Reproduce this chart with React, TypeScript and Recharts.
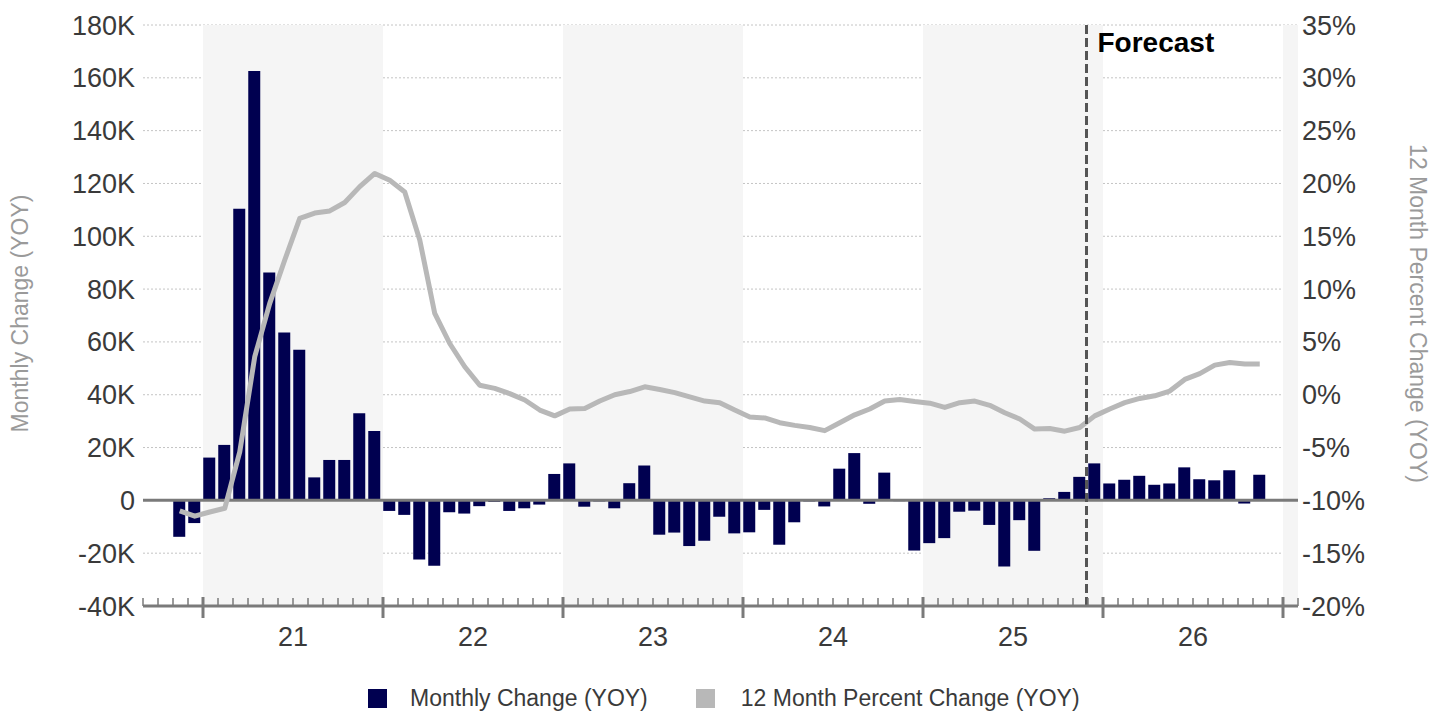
import React from 'react';
import {
  ComposedChart,
  Bar,
  Line,
  XAxis,
  YAxis,
  CartesianGrid,
  ReferenceLine,
  ReferenceArea,
  Legend,
} from 'recharts';

// ---- data ----
const months = [
  '2020-11', '2020-12',
  '2021-01', '2021-02', '2021-03', '2021-04', '2021-05', '2021-06', '2021-07', '2021-08', '2021-09', '2021-10', '2021-11', '2021-12',
  '2022-01', '2022-02', '2022-03', '2022-04', '2022-05', '2022-06', '2022-07', '2022-08', '2022-09', '2022-10', '2022-11', '2022-12',
  '2023-01', '2023-02', '2023-03', '2023-04', '2023-05', '2023-06', '2023-07', '2023-08', '2023-09', '2023-10', '2023-11', '2023-12',
  '2024-01', '2024-02', '2024-03', '2024-04', '2024-05', '2024-06', '2024-07', '2024-08', '2024-09', '2024-10', '2024-11', '2024-12',
  '2025-01', '2025-02', '2025-03', '2025-04', '2025-05', '2025-06', '2025-07', '2025-08', '2025-09', '2025-10', '2025-11', '2025-12',
  '2026-01', '2026-02', '2026-03', '2026-04', '2026-05', '2026-06', '2026-07', '2026-08', '2026-09', '2026-10', '2026-11',
];

// Monthly change (YOY), thousands
const monthlyChangeK = [
  -13.8, -8.6,
  16.2, 21.0, 110.4, 162.6, 86.3, 63.6, 57.0, 8.7, 15.3, 15.3, 33.0, 26.3,
  -4.0, -5.5, -22.4, -24.8, -4.5, -5.0, -2.2, -0.6, -4.0, -3.0, -1.6, 10.0,
  14.0, -2.4, -0.4, -3.0, 6.5, 13.2, -13.0, -12.2, -17.3, -15.3, -6.2, -12.5,
  -12.1, -3.6, -16.8, -8.3, -0.4, -2.3, 12.0, 17.9, -1.3, 10.5, -0.3, -19.0,
  -16.2, -14.3, -4.3, -3.9, -9.3, -25.0, -7.5, -19.1, 0.8, 3.2, 8.9, 14.0,
  6.4, 7.8, 9.3, 5.9, 6.4, 12.5, 8.0, 7.6, 11.4, -1.2, 9.7,
];

// 12 month percent change (YOY), %
const pctChange = [
  -11.0, -11.5,
  -11.1, -10.75, -5.4, 3.6, 8.65, 12.75, 16.7, 17.2, 17.4, 18.2, 19.7, 20.95,
  20.3, 19.2, 14.65, 7.7, 4.85, 2.65, 0.9, 0.6, 0.1, -0.5, -1.45, -2.0,
  -1.35, -1.3, -0.6, 0.0, 0.3, 0.75, 0.5, 0.2, -0.2, -0.6, -0.75, -1.45,
  -2.1, -2.2, -2.65, -2.9, -3.1, -3.4, -2.65, -1.9, -1.35, -0.6, -0.45, -0.65,
  -0.8, -1.2, -0.75, -0.6, -1.0, -1.7, -2.3, -3.25, -3.2, -3.45, -3.1, -2.0,
  -1.35, -0.75, -0.35, -0.1, 0.35, 1.45, 2.0, 2.8, 3.05, 2.9, 2.9,
];

const leftTicks = [-40000, -20000, 0, 20000, 40000, 60000, 80000, 100000, 120000, 140000, 160000, 180000];
const rightTicks = [-20, -15, -10, -5, 0, 5, 10, 15, 20, 25, 30, 35];
const yearLabels = ['21', '22', '23', '24', '25', '26'];
const shadedYears = [2021, 2023, 2025, 2027];
const forecastStart = '2025-12';
const forecastLabel = 'Forecast';
const seriesNames = ['Monthly Change (YOY)', '12 Month Percent Change (YOY)'];
const axisTitles = ['Monthly Change (YOY)', '12 Month Percent Change (YOY)'];

// axis runs from Sep 2020 (index 0) to end of Jan 2027 (index 77)
const AXIS_FIRST_YEAR = 2020;
const AXIS_FIRST_MONTH = 9;
const AXIS_LENGTH = 77;

const idxOf = (m: string) => {
  const [y, mo] = m.split('-').map(Number);
  return (y - AXIS_FIRST_YEAR) * 12 + (mo - AXIS_FIRST_MONTH);
};

const data = months.map((m, i) => ({
  x: idxOf(m) + 0.45,
  month: m,
  change: monthlyChangeK[i] * 1000,
  pct: pctChange[i],
}));

const xTicks = Array.from({ length: AXIS_LENGTH + 1 }, (_, i) => i);

const NAVY = '#000050';
const GRAY_LINE = '#b8b8b8';
const AXIS_GRAY = '#7a7a7a';
const TEXT = '#3a3a3a';
const FONT = '"Liberation Sans", Arial, sans-serif';

const fmtK = (v: number) => (v === 0 ? '0' : `${v / 1000}K`);
const fmtPct = (v: number) => `${v}%`;

const XTick = (props: any) => {
  const { x, y, payload } = props;
  const v = payload.value as number;
  const firstJan = idxOf(`${AXIS_FIRST_YEAR + 1}-01`);
  const rel = (((v - firstJan) % 12) + 12) % 12;
  const yearIdx = Math.floor((v - firstJan) / 12);
  return (
    <g>
      {rel === 0 ? (
        <line x1={x} x2={x} y1={y - 9} y2={y + 12} stroke={AXIS_GRAY} strokeWidth={3} />
      ) : (
        <line x1={x} x2={x} y1={y - 8} y2={y} stroke={AXIS_GRAY} strokeWidth={1.5} />
      )}
      {rel === 6 && yearIdx >= 0 && yearLabels[yearIdx] ? (
        <text x={x} y={y + 40} textAnchor="middle" fill={TEXT} fontSize={27} fontFamily={FONT}>
          {yearLabels[yearIdx]}
        </text>
      ) : null}
    </g>
  );
};

const LeftTitle = (props: any) => {
  const vb = props.viewBox || { x: 0, y: 0, width: 0, height: 0 };
  const cx = vb.x + 12;
  const cy = vb.y + vb.height / 2 - 2;
  return (
    <text
      x={cx}
      y={cy}
      transform={`rotate(-90 ${cx} ${cy})`}
      textAnchor="middle"
      dominantBaseline="central"
      fill="#9a9a9a"
      fontSize={23}
      fontFamily={FONT}
    >
      {axisTitles[0]}
    </text>
  );
};

const RightTitle = (props: any) => {
  const vb = props.viewBox || { x: 0, y: 0, width: 0, height: 0 };
  const cx = vb.x + 120;
  const cy = vb.y + vb.height / 2 - 2;
  return (
    <text
      x={cx}
      y={cy}
      transform={`rotate(90 ${cx} ${cy})`}
      textAnchor="middle"
      dominantBaseline="central"
      fill="#9a9a9a"
      fontSize={23}
      fontFamily={FONT}
    >
      {axisTitles[1]}
    </text>
  );
};

const ForecastLabel = (props: any) => {
  const vb = props.viewBox || { x: 0, y: 0 };
  return (
    <text x={vb.x + 11} y={vb.y + 27} fill="#000" fontSize={28} fontWeight="bold" fontFamily={FONT}>
      {forecastLabel}
    </text>
  );
};

const LegendContent = () => (
  <div style={{ display: 'flex', alignItems: 'center', fontFamily: FONT, fontSize: 23, color: TEXT, lineHeight: '24px', height: 24 }}>
    <span style={{ display: 'inline-block', width: 19, height: 19, background: NAVY, marginRight: 23 }} />
    <span style={{ marginRight: 48 }}>{seriesNames[0]}</span>
    <span style={{ display: 'inline-block', width: 19, height: 19, background: GRAY_LINE, marginRight: 26 }} />
    <span>{seriesNames[1]}</span>
  </div>
);

export default function App() {
  return (
    <div style={{ width: 1432, height: 703, overflow: 'visible' }}>
      <ComposedChart
        width={1432}
        height={703}
        data={data}
        margin={{ top: 17, right: 0, bottom: 0, left: 0 }}
        style={{ fontFamily: FONT, overflow: 'visible' }}
      >
        {shadedYears.map((yr) => {
          const x1 = idxOf(`${yr}-01`);
          const x2 = Math.min(x1 + 12, AXIS_LENGTH);
          return (
            <ReferenceArea
              key={yr}
              yAxisId="left"
              x1={x1}
              x2={x2}
              fill="#f5f5f5"
              fillOpacity={1}
              stroke="none"
              ifOverflow="extendDomain"
            />
          );
        })}
        <CartesianGrid yAxisId="left" vertical={false} stroke="#c4c4c4" strokeDasharray="2 2" />
        <XAxis
          dataKey="x"
          type="number"
          domain={[0, AXIS_LENGTH]}
          ticks={xTicks}
          interval={0}
          tick={<XTick />}
          tickLine={false}
          tickSize={0}
          tickMargin={0}
          axisLine={{ stroke: AXIS_GRAY, strokeWidth: 3 }}
          height={105}
          allowDataOverflow
        />
        <YAxis
          yAxisId="left"
          orientation="left"
          width={135}
          domain={[-40000, 180000]}
          ticks={leftTicks}
          interval={0}
          tickFormatter={fmtK}
          axisLine={false}
          tickLine={false}
          tickSize={6}
          tickMargin={2}
          tick={{ fill: TEXT, fontSize: 27, fontFamily: FONT }}
          label={<LeftTitle />}
          allowDataOverflow
        />
        <YAxis
          yAxisId="right"
          orientation="right"
          width={142}
          domain={[-20, 35]}
          ticks={rightTicks}
          interval={0}
          tickFormatter={fmtPct}
          axisLine={false}
          tickLine={false}
          tickSize={2}
          tickMargin={2}
          tick={{ fill: TEXT, fontSize: 27, fontFamily: FONT }}
          label={<RightTitle />}
          allowDataOverflow
        />
        <Bar
          yAxisId="left"
          dataKey="change"
          name={seriesNames[0]}
          fill={NAVY}
          barSize={12}
          isAnimationActive={false}
        />
        <ReferenceLine yAxisId="left" y={0} stroke={AXIS_GRAY} strokeWidth={3} />
        <Line
          yAxisId="right"
          dataKey="pct"
          name={seriesNames[1]}
          type="linear"
          stroke={GRAY_LINE}
          strokeWidth={5}
          strokeLinejoin="round"
          dot={false}
          activeDot={false}
          isAnimationActive={false}
        />
        <ReferenceLine
          yAxisId="left"
          x={idxOf(forecastStart) - 0.1}
          stroke="#555"
          strokeWidth={3}
          strokeDasharray="9 4"
          label={<ForecastLabel />}
        />
        <Legend
          layout="horizontal"
          verticalAlign="middle"
          content={<LegendContent />}
          wrapperStyle={{ position: 'absolute', top: 678, left: 360, width: 900, height: 24 }}
        />
      </ComposedChart>
    </div>
  );
}
